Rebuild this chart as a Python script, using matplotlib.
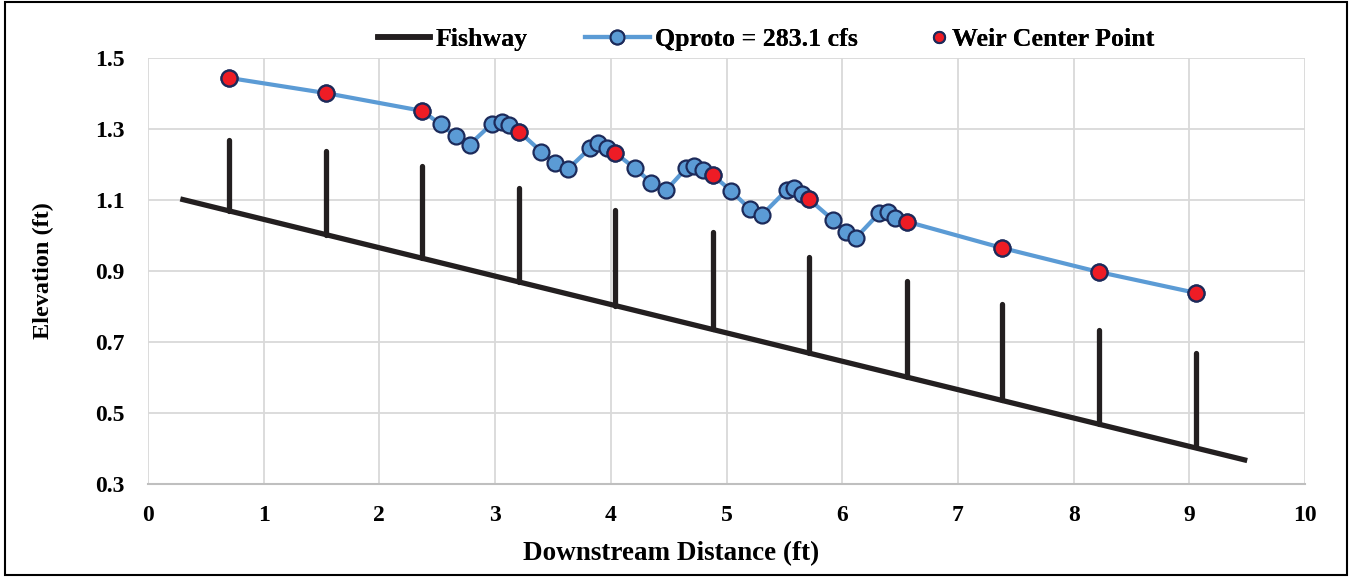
import matplotlib
matplotlib.use("Agg")
import matplotlib.pyplot as plt
from matplotlib.lines import Line2D
from matplotlib.patches import Rectangle

# Fishway bed line (ends)
bed_x = [0.28, 9.50]
bed_y = [1.103, 0.366]

# Weirs: position, base on the bed, crest height
weir_x = [0.70, 1.54, 2.37, 3.21, 4.04, 4.88, 5.71, 6.56, 7.38, 8.22, 9.06]
weir_base = [1.069, 1.002, 0.936, 0.869, 0.802, 0.736, 0.670, 0.602, 0.537, 0.470, 0.403]
weir_crest = [1.268, 1.237, 1.197, 1.135, 1.071, 1.009, 0.938, 0.873, 0.806, 0.735, 0.668]

# Water surface, Qproto = 283.1 cfs
wsx = [0.70, 1.54, 2.37, 2.53, 2.66, 2.78, 2.97, 3.06, 3.12, 3.21,
       3.40, 3.52, 3.63, 3.82, 3.89, 3.97, 4.04, 4.21, 4.35, 4.48,
       4.65, 4.72, 4.80, 4.88, 5.04, 5.20, 5.31, 5.52, 5.58, 5.65,
       5.71, 5.92, 6.03, 6.12, 6.32, 6.40, 6.46, 6.56, 7.38, 8.22, 9.06]
wsy = [1.444, 1.401, 1.351, 1.313, 1.280, 1.256, 1.314, 1.319, 1.311, 1.292,
       1.236, 1.205, 1.187, 1.246, 1.260, 1.247, 1.232, 1.189, 1.149, 1.128,
       1.189, 1.197, 1.185, 1.170, 1.126, 1.075, 1.059, 1.128, 1.135, 1.116,
       1.103, 1.044, 1.009, 0.994, 1.063, 1.067, 1.048, 1.039, 0.965, 0.897, 0.838]

# Weir center points
wc_x = [0.70, 1.54, 2.37, 3.21, 4.04, 4.88, 5.71, 6.56, 7.38, 8.22, 9.06]
wc_y = [1.444, 1.401, 1.351, 1.292, 1.232, 1.170, 1.103, 1.039, 0.965, 0.897, 0.838]

x_ticks = [0, 1, 2, 3, 4, 5, 6, 7, 8, 9, 10]
y_ticks = [0.3, 0.5, 0.7, 0.9, 1.1, 1.3, 1.5]

plt.rcParams['font.family'] = ['Liberation Serif', 'DejaVu Serif']
plt.rcParams['font.weight'] = 'bold'

blue = '#5B9BD5'
navy = '#1C2A5A'
red = '#EE1C25'
dark = '#231F20'

fig = plt.figure(figsize=(13.51, 5.77), dpi=100)
ax = fig.add_axes([0.1095, 0.1612, 0.8565, 0.7383])

ax.plot(bed_x, bed_y, color=dark, lw=3.8, solid_capstyle='butt', zorder=2)
weirs = ax.vlines(weir_x, weir_base, weir_crest, color=dark, lw=3.8, zorder=2)
weirs.set_capstyle('round')
ax.plot(wsx, wsy, color=blue, lw=3, marker='o', ms=11.5, mfc=blue, mec=navy,
        mew=1.6, zorder=3)
ax.plot(wc_x, wc_y, ls='none', marker='o', ms=11.5, mfc=red, mec=navy,
        mew=1.6, zorder=4)

ax.set_xlim(0, 10)
ax.set_ylim(0.3, 1.5)
ax.set_xticks(x_ticks)
ax.set_yticks(y_ticks)
ax.set_yticklabels(['%.1f' % v for v in y_ticks])
ax.grid(True, color='#D9D9D9', lw=1.3)
ax.set_axisbelow(True)
for s in ['top', 'right', 'left']:
    ax.spines[s].set_visible(False)
ax.spines['bottom'].set_color('#BFBFBF')
ax.spines['bottom'].set_linewidth(1.5)
ax.tick_params(length=0, labelsize=17)
ax.tick_params(axis='x', pad=15)
ax.tick_params(axis='y', pad=17)
ax.set_xlabel('Downstream Distance (ft)', fontsize=19.5, fontweight='bold')
ax.xaxis.set_label_coords(0.452, -0.133)
ax.set_ylabel('Elevation (ft)', fontsize=17.5, fontweight='bold')
ax.yaxis.set_label_coords(-0.081, 0.5)

# legend entries, placed one by one like the original
leg_specs = [
    (Line2D([], [], color=dark, lw=4), 'Fishway', 0.2798, 2.0),
    (Line2D([], [], color=blue, lw=3, marker='o', ms=10, mfc=blue, mec=navy, mew=1.5),
     'Qproto = 283.1 cfs', 0.433, 2.5),
    (Line2D([], [], ls='none', marker='o', ms=8, mfc=red, mec=navy, mew=1.5),
     'Weir Center Point', 0.690, 0.55),
]
for h, lab, x0, hl in leg_specs:
    lg = fig.legend([h], [lab], loc='center left', bbox_to_anchor=(x0, 0.932),
                    frameon=False, fontsize=18.6, handlelength=hl,
                    handletextpad=0.22, borderpad=0, borderaxespad=0)
    fig.add_artist(lg)

fig.patches.append(Rectangle((0.004, 0.003), 0.993, 0.994, transform=fig.transFigure,
                             fill=False, edgecolor='black', lw=1.5))

fig.savefig('out.png', dpi=100)
